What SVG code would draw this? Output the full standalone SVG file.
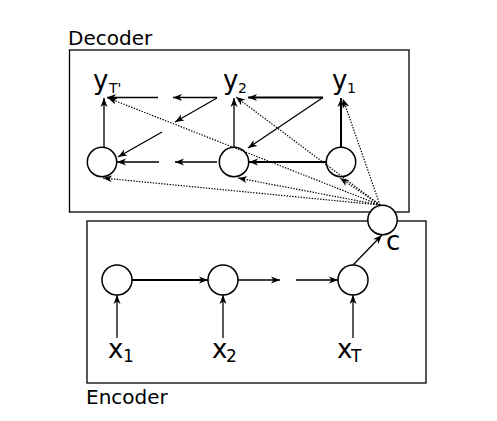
<svg xmlns="http://www.w3.org/2000/svg" width="497" height="421" viewBox="0 0 497 421">
<defs>
<style>
.box{fill:none;stroke:#000;stroke-width:1.3}
.nd{fill:#fff;stroke:#000;stroke-width:1.5}
.ln{fill:none;stroke:#000;stroke-width:1.3;marker-end:url(#ah)}
.thk{stroke-width:2}
.dot{fill:none;stroke:#000;stroke-width:1.2;stroke-dasharray:1.4 1.4;marker-end:url(#ah)}
.lbl{font-family:"DejaVu Sans","Liberation Sans",sans-serif;fill:#000}
.big{font-size:26px}
.sub{font-size:14px}
.subx{font-size:17px}
.title{font-size:20px}
</style>
<marker id="ah" viewBox="-10 -5 11 10" refX="0" refY="0" markerWidth="11" markerHeight="10" markerUnits="userSpaceOnUse" orient="auto">
<path d="M0,0 L-9,-3.5 L-6.5,0 L-9,3.5 Z" fill="#000"/>
</marker>
</defs>
<rect class="box" x="69.5" y="50" width="339.5" height="162"/>
<rect class="box" x="87" y="221" width="339" height="162"/>
<text class="lbl title" x="68" y="45">Decoder</text>
<text class="lbl title" x="86" y="404">Encoder</text>
<g id="connectors">
<line class="ln" x1="117" y1="338" x2="117" y2="295"/>
<line class="ln" x1="223" y1="338" x2="223" y2="295"/>
<line class="ln" x1="353" y1="338" x2="353" y2="295"/>
<line class="ln thk" x1="132" y1="280" x2="208" y2="280"/>
<line class="ln" x1="238" y1="280" x2="280" y2="280"/>
<line class="ln" x1="296" y1="280" x2="338" y2="280"/>
<line class="ln" x1="353" y1="265" x2="382" y2="235"/>
<line class="ln" x1="104" y1="147" x2="104" y2="98"/>
<line class="ln" x1="234" y1="147" x2="234" y2="98"/>
<line class="ln thk" x1="341" y1="147" x2="341" y2="98"/>
<line class="ln thk" x1="323" y1="97.5" x2="248" y2="97.5"/>
<line class="ln" x1="323" y1="97.5" x2="248" y2="148"/>
<line class="ln" x1="217" y1="97.5" x2="173" y2="97.5"/>
<line class="ln" x1="158" y1="97.5" x2="107" y2="97.5"/>
<line class="ln" x1="217" y1="98" x2="175" y2="122"/>
<line class="ln" x1="162" y1="132" x2="118" y2="157"/>
<line class="ln thk" x1="326" y1="162" x2="249" y2="162"/>
<line class="ln" x1="217" y1="162" x2="175" y2="162"/>
<line class="ln" x1="159" y1="162" x2="117" y2="162"/>
<line class="dot" x1="380" y1="205" x2="108" y2="98"/>
<line class="dot" x1="380" y1="205" x2="103" y2="178"/>
<line class="dot" x1="380" y1="205" x2="236" y2="97"/>
<line class="dot" x1="380" y1="205" x2="238" y2="178"/>
<line class="dot" x1="380" y1="205" x2="343" y2="99"/>
<line class="dot" x1="380" y1="205" x2="340" y2="178"/>
</g>
<g id="enc1"><circle class="nd" cx="117" cy="280" r="15"/></g>
<g id="enc2"><circle class="nd" cx="223" cy="280" r="15"/></g>
<g id="enc3"><circle class="nd" cx="353" cy="280" r="15"/></g>
<g id="ctx"><circle class="nd" cx="382.5" cy="220" r="14.7"/><text class="lbl big" x="386" y="250">c</text></g>
<g id="dec1"><circle class="nd" cx="102" cy="162" r="14.7" style="fill:none"/></g>
<g id="dec2"><circle class="nd" cx="234" cy="162" r="14.7" style="fill:none"/></g>
<g id="dec3"><circle class="nd" cx="341" cy="162" r="14.7" style="fill:none"/></g>
<g id="x1"><text class="lbl big" x="108" y="358">x</text><text class="lbl subx" x="123" y="362">1</text></g>
<g id="x2"><text class="lbl big" x="212" y="358">x</text><text class="lbl subx" x="226" y="362">2</text></g>
<g id="xT"><text class="lbl big" x="337" y="358">x</text><text class="lbl subx" x="351" y="362">T</text></g>
<g id="yT"><text class="lbl big" x="93" y="89">y</text><text class="lbl sub" x="109" y="93">T'</text></g>
<g id="y2"><text class="lbl big" x="223" y="89">y</text><text class="lbl sub" x="238" y="93">2</text></g>
<g id="y1"><text class="lbl big" x="332" y="89">y</text><text class="lbl sub" x="347" y="93">1</text></g>
</svg>
